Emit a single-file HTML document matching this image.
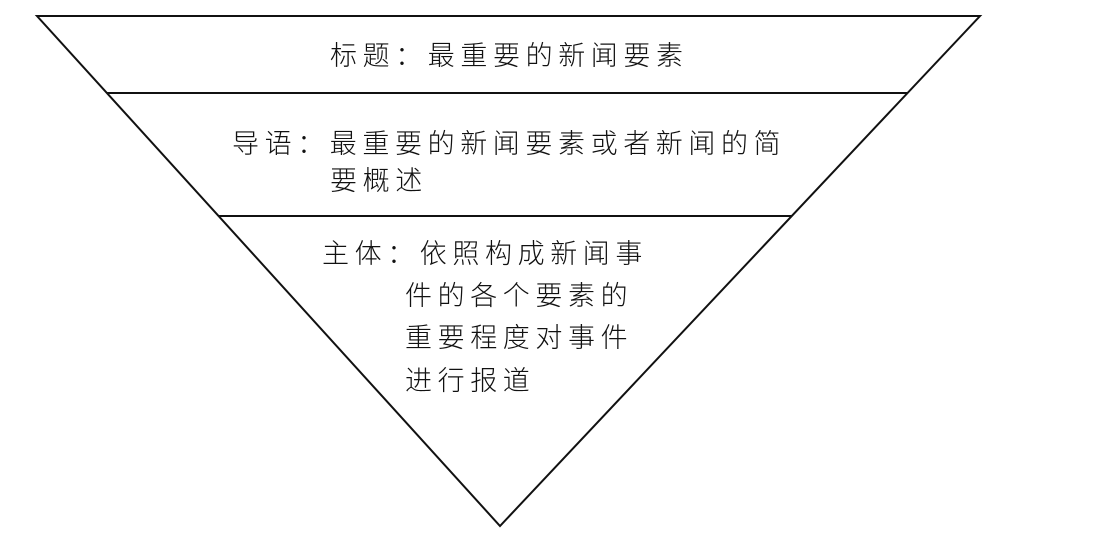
<!DOCTYPE html>
<html><head><meta charset="utf-8"><style>
html,body{margin:0;padding:0;background:#fff;}
svg{display:block}
text{font-family:"Liberation Sans","Noto Sans CJK SC",sans-serif;font-size:27px;fill:#111;letter-spacing:5.6px;font-weight:300}
</style></head><body>
<svg width="1108" height="550" viewBox="0 0 1108 550">
<polygon points="37,16 980,16 500,526" fill="none" stroke="#111" stroke-width="2"/>
<line x1="107" y1="93" x2="908" y2="93" stroke="#111" stroke-width="2"/>
<line x1="219" y1="216" x2="792" y2="216" stroke="#111" stroke-width="2"/>
<text x="330" y="65">标题：最重要的新闻要素</text>
<text x="232" y="153">导语：最重要的新闻要素或者新闻的简</text>
<text x="330" y="190">要概述</text>
<text x="322" y="263">主体：依照构成新闻事</text>
<text x="405" y="305">件的各个要素的</text>
<text x="405" y="347">重要程度对事件</text>
<text x="405" y="390">进行报道</text>
</svg>
</body></html>
